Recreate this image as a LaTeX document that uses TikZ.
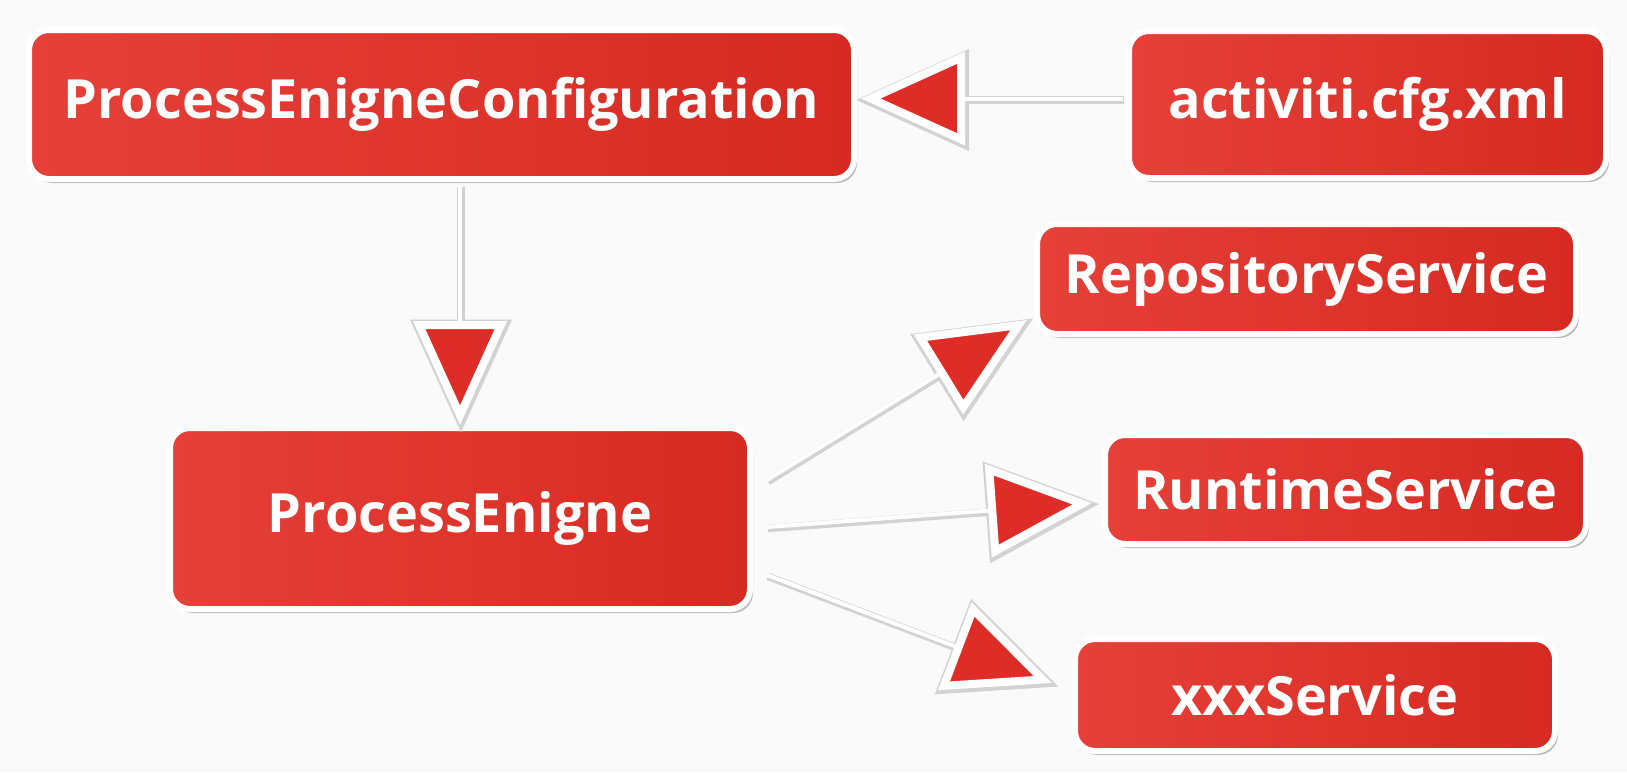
\documentclass[tikz,border=0pt]{standalone}
\usepackage{fontspec}
\setmainfont{Open Sans}
\usetikzlibrary{arrows.meta,shadows,calc}
\definecolor{bg}{RGB}{250,250,250}
\definecolor{redL}{RGB}{230,64,56}
\definecolor{redR}{RGB}{214,42,34}
\definecolor{tipred}{RGB}{222,45,38}
\definecolor{rim}{RGB}{210,210,210}
\tikzset{
  box/.style={draw=white, line width=6pt, rounded corners=20pt,
    left color=redL, right color=redR, text=white,
    font=\fontsize{54}{62}\selectfont\bfseries, inner sep=0pt,
    drop shadow={shadow xshift=3pt, shadow yshift=-4pt, opacity=0.25, fill=black}},
  tiphead/.style={-{Triangle[length=104pt,width=92pt,line width=8pt,fill=tipred]}},
  conn/.style={draw=white, line width=4pt, tiphead,
    preaction={draw=rim, line width=7.5pt, shorten >=-6pt,
      -{Triangle[length=113pt,width=100pt,line width=8pt,fill=rim]},
      transform canvas={shift={(1pt,-1.5pt)}}}},
}
\begin{document}
\begin{tikzpicture}[x=1pt,y=-1pt]
\fill[bg] (0,0) rectangle (1627,772);
\useasboundingbox (0,0) rectangle (1627,772);

\node[box, minimum width=825pt, minimum height=149pt] (pec) at (441.5,104.5) {ProcessEnigneConfiguration};
\node[box, minimum width=477pt, minimum height=147pt] (act) at (1367.5,104.5) {activiti.cfg.xml};
\node[box, minimum width=539pt, minimum height=110pt] (repo) at (1306.5,279) {RepositoryService};
\node[box, minimum width=481pt, minimum height=109pt] (run) at (1345.5,489.5) {RuntimeService};
\node[box, minimum width=480pt, minimum height=112pt] (xxx) at (1315,695) {xxxService};
\node[box, minimum width=580pt, minimum height=181pt] (pe) at (460,518.5) {ProcessEnigne};

\draw[conn] ([xshift=-3pt,yshift=6pt]act.west) -- ([xshift=4pt,yshift=6pt]pec.east);
\draw[conn] ([yshift=-3pt]pe.north |- pec.south) -- (pe.north);
\draw[conn] ([xshift=14pt,yshift=38.5pt]pe.east) -- ([xshift=-7pt,yshift=17pt]repo.south west);
\draw[conn] ([xshift=14pt,yshift=-8.5pt]pe.east) -- ([xshift=-10pt,yshift=-13.5pt]run.west);
\draw[conn] ([xshift=14pt,yshift=-56.5pt]pe.east) -- ([xshift=-20pt,yshift=12pt]xxx.west);
\end{tikzpicture}
\end{document}
